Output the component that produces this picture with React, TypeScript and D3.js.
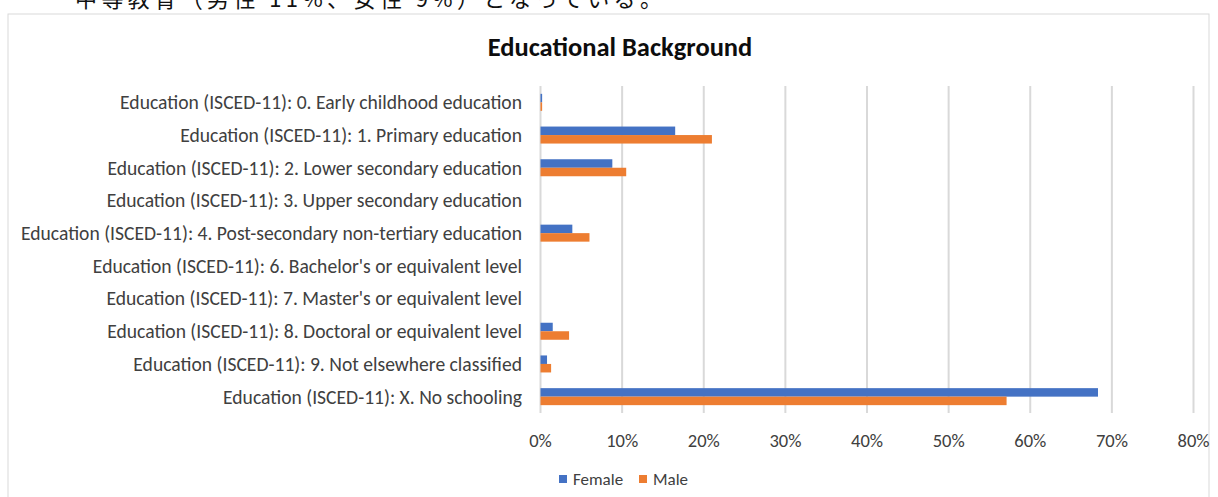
import React from "react";
import * as d3 from "d3";

const categories: string[] = [
  "Education (ISCED-11): 0. Early childhood education",
  "Education (ISCED-11): 1. Primary education",
  "Education (ISCED-11): 2. Lower secondary education",
  "Education (ISCED-11): 3. Upper secondary education",
  "Education (ISCED-11): 4. Post-secondary non-tertiary education",
  "Education (ISCED-11): 6. Bachelor's or equivalent level",
  "Education (ISCED-11): 7. Master's or equivalent level",
  "Education (ISCED-11): 8. Doctoral or equivalent level",
  "Education (ISCED-11): 9. Not elsewhere classified",
  "Education (ISCED-11): X. No schooling",
];

const female: number[] = [0.002, 0.165, 0.088, 0, 0.039, 0, 0, 0.015, 0.008, 0.683];
const male: number[] = [0.002, 0.21, 0.105, 0, 0.06, 0, 0, 0.035, 0.013, 0.571];

const seriesNames: string[] = ["Female", "Male"];
const seriesColors: string[] = ["#4472C4", "#ED7D31"];
const xTicks: number[] = [0, 0.1, 0.2, 0.3, 0.4, 0.5, 0.6, 0.7, 0.8];

const W = 1218;
const H = 497;
const FONT = "Carlito, Calibri, 'Open Sans', sans-serif";

export default function App() {
  const x = d3.scaleLinear().domain([0, 0.8]).range([540.5, 1193.5]);
  const y = d3.scaleBand<string>().domain(categories).range([86, 413]).paddingInner(0.48).paddingOuter(0.24);
  const sub = d3.scaleBand<string>().domain(seriesNames).range([0, y.bandwidth()]);
  const values = [female, male];
  const fmt = d3.format(".0%");

  return (
    <svg width={W} height={H} style={{ position: "absolute", left: 0, top: 0, background: "#fff" }}>
      <text
        x={75}
        y={7}
        fontSize={22}
        fontFamily="'Noto Sans CJK JP', serif"
        fill="#111"
        textLength={587}
        lengthAdjust="spacing"
      >
        中等教育（男性 11%、女性 9%）となっている。
      </text>
      <rect x={8} y={14} width={1201} height={500} fill="#fff" stroke="#d9d9d9" strokeWidth={1} />
      <text x={620} y={56} textAnchor="middle" fontFamily={FONT} fontSize={26.5} fontWeight="bold" fill="#0d0d0d">
        Educational Background
      </text>
      {xTicks.map((t) => (
        <line key={"g" + t} x1={x(t)} x2={x(t)} y1={86} y2={413} stroke="#d9d9d9" strokeWidth={2} />
      ))}
      {values.map((vals, si) =>
        categories.map((c, i) => (
          <rect
            key={seriesNames[si] + i}
            x={x(0)}
            y={(y(c) as number) + (sub(seriesNames[si]) as number)}
            width={Math.max(0, x(vals[i]) - x(0))}
            height={sub.bandwidth()}
            fill={seriesColors[si]}
          />
        ))
      )}
      {categories.map((c) => (
        <text
          key={"l" + c}
          x={522}
          y={(y(c) as number) + y.bandwidth() / 2}
          dy="0.35em"
          textAnchor="end"
          fontFamily={FONT}
          fontSize={19.6}
          fill="#404040"
        >
          {c}
        </text>
      ))}
      {xTicks.map((t) => (
        <text key={"t" + t} x={x(t)} y={441} dy="0.35em" textAnchor="middle" fontFamily={FONT} fontSize={18.5} fill="#404040">
          {fmt(t)}
        </text>
      ))}
      {seriesNames.map((s, i) => {
        const lx = [559, 639][i];
        return (
          <g key={"lg" + s}>
            <rect x={lx} y={475} width={8} height={8} fill={seriesColors[i]} />
            <text x={lx + 14} y={479} dy="0.35em" fontFamily={FONT} fontSize={17} fill="#404040">
              {s}
            </text>
          </g>
        );
      })}
    </svg>
  );
}
